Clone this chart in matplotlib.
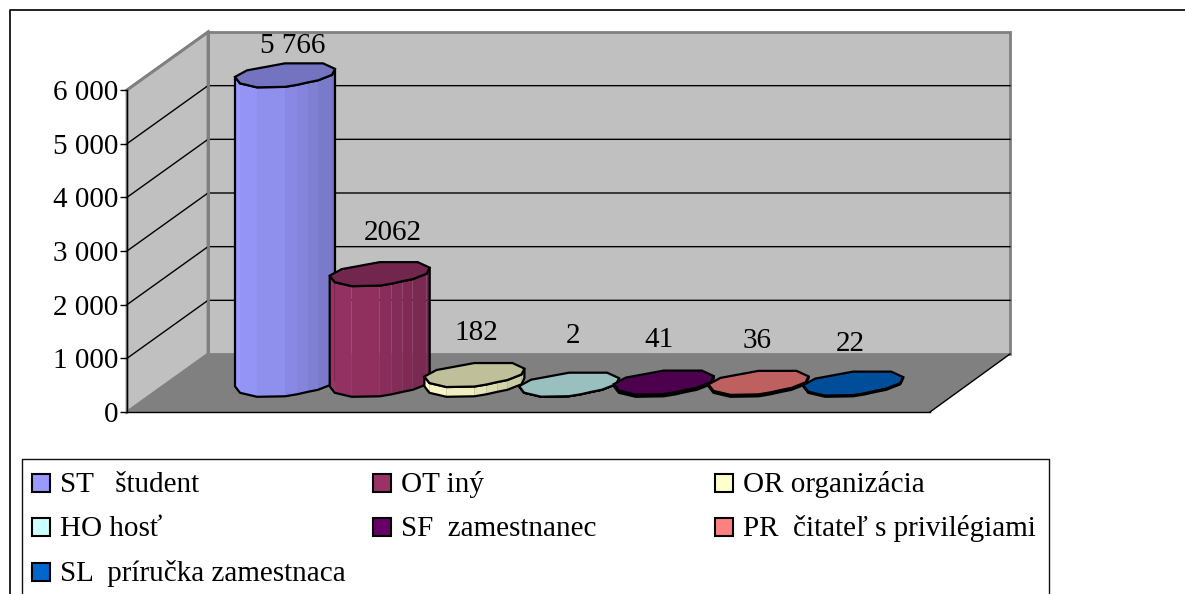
import matplotlib
matplotlib.use("Agg")
import numpy as np
import matplotlib.pyplot as plt
from matplotlib.colors import to_rgb
from matplotlib.patches import Polygon, Rectangle

# data
categories = ["ST   študent", "OT iný", "OR organizácia", "HO hosť", "SF  zamestnanec",
              "PR  čitateľ s privilégiami", "SL  príručka zamestnaca"]
values = [5766, 2062, 182, 2, 41, 36, 22]
value_labels = ["5 766", "2062", "182", "2", "41", "36", "22"]
colors = ["#9999ff", "#993366", "#ffffcc", "#ccffff", "#660066", "#ff8080", "#0066cc"]
y_ticks = [0, 1000, 2000, 3000, 4000, 5000, 6000]
y_tick_labels = ["0", "1 000", "2 000", "3 000", "4 000", "5 000", "6 000"]

W, H = 1185, 594
plt.rcParams["font.family"] = ["Liberation Serif", "DejaVu Serif"]
FS = 21

fig = plt.figure(figsize=(W / 100, H / 100), dpi=100)

# background layer in pixels (frame, walls, legend)
bg = fig.add_axes([0, 0, 1, 1])
bg.set_xlim(0, W)
bg.set_ylim(H, 0)
bg.axis("off")

# front plane of the chart
LEFT, RIGHT, TOP, BOTTOM = 127, 930, 90, 412
ax = fig.add_axes([LEFT / W, 1 - BOTTOM / H, (RIGHT - LEFT) / W, (BOTTOM - TOP) / H])
ax.patch.set_alpha(0)

px_per_cat = 94.7
x_first = 285
ax.set_xlim((LEFT - x_first) / px_per_cat, (RIGHT - x_first) / px_per_cat)
ax.set_ylim(0, 6000)
px_per_val = (BOTTOM - TOP) / 6000
for s in ["top", "right"]:
    ax.spines[s].set_visible(False)
ax.spines["bottom"].set_linewidth(1)
ax.spines["left"].set_linewidth(1)
ax.set_xticks([])
ax.set_yticks(y_ticks)
ax.set_yticklabels(y_tick_labels, fontsize=FS)
ax.tick_params(axis="y", length=5, width=1, pad=1)

# frame
bg.plot([W, 10, 10], [10, 10, H], color="#111111", lw=1.3)

# walls
DX, DY = 81, 58
wall_top = TOP - DY
bg.add_patch(Polygon([(LEFT + DX, wall_top), (1010, wall_top), (1010, BOTTOM - DY), (LEFT + DX, BOTTOM - DY)],
                     fc="#c0c0c0", ec="#808080", lw=2))
bg.add_patch(Polygon([(LEFT, TOP), (LEFT + DX, wall_top), (LEFT + DX, BOTTOM - DY), (LEFT, BOTTOM)],
                     fc="#c0c0c0", ec="#808080", lw=2))
bg.add_patch(Polygon([(LEFT, BOTTOM), (RIGHT, BOTTOM), (1010, BOTTOM - DY), (LEFT + DX, BOTTOM - DY)],
                     fc="#808080", ec="none"))
bg.plot([RIGHT, 1010], [BOTTOM, BOTTOM - DY], color="black", lw=1)

# gridlines on side and back wall
for t in y_ticks[1:]:
    yf = BOTTOM - t * px_per_val
    if t < 6000:
        bg.plot([LEFT, LEFT + DX, 1010], [yf, yf - DY, yf - DY], color="black", lw=1, zorder=2)
    else:
        bg.plot([LEFT, LEFT + DX], [yf, yf - DY], color="#808080", lw=2, zorder=2)
bg.plot([LEFT + DX, LEFT + DX], [wall_top, BOTTOM - DY], color="#808080", lw=2, zorder=3)

# skewed octagon, pixel offsets from the column centre
front = np.array([(-50, 1.5), (-45, 8), (-28, 12), (0, 11.5), (12, 9.5), (23, 7), (33, 5), (47, -0.5), (50, -6.5)])
back = np.array([(38, -12), (28, -12), (0, -12), (-38, -5)])


def to_data(i, v, pts):
    return np.column_stack([i + pts[:, 0] / px_per_cat, v - pts[:, 1] / px_per_val])


BASE = 384.8
base_val = (BOTTOM - BASE) / px_per_val
label_dx = [8, 13, 2, 4, -5, -1, -3]
label_up = [29, 41, 42, 49, 43, 42, 40]

for i, (v, c) in enumerate(zip(values, colors)):
    rgb = np.array(to_rgb(c))
    top = base_val + v
    # side facets, lighter on the left
    for k in range(len(front) - 1):
        shade = 1 - 0.24 * k / (len(front) - 2)
        pts = np.vstack([to_data(i, base_val, front[k:k + 2]), to_data(i, top, front[k:k + 2])[::-1]])
        ax.add_patch(Polygon(pts, fc=rgb * shade, ec="none", zorder=3 + i, clip_on=False))
    outline = np.vstack([to_data(i, base_val, front), to_data(i, top, front)[::-1]])
    ax.add_patch(Polygon(outline, fill=False, ec="black", lw=1.6, zorder=3 + i, clip_on=False))
    # top face
    ring = np.vstack([front, back])
    ax.add_patch(Polygon(to_data(i, top, ring), fc=rgb * 0.75, ec="black", lw=1.6, zorder=3 + i, clip_on=False))
    ax.text(i + label_dx[i] / px_per_cat, top + label_up[i] / px_per_val, value_labels[i],
            ha="center", va="center", fontsize=FS, zorder=20, clip_on=False)

# legend, filled by rows
bg.plot([22, 22, 1049, 1049], [H, 459, 459, H], color="#111111", lw=1)
col_x = [32, 373, 715]
row_y = [483, 527, 572]
for i, (name, c) in enumerate(zip(categories, colors)):
    x, y = col_x[i % 3], row_y[i // 3]
    bg.add_patch(Rectangle((x, y - 9), 18, 18, fc=c, ec="black", lw=1.5))
    bg.text(x + 28, y + 9, name, va="baseline", ha="left", fontsize=FS)

fig.savefig("out.png", dpi=100)
